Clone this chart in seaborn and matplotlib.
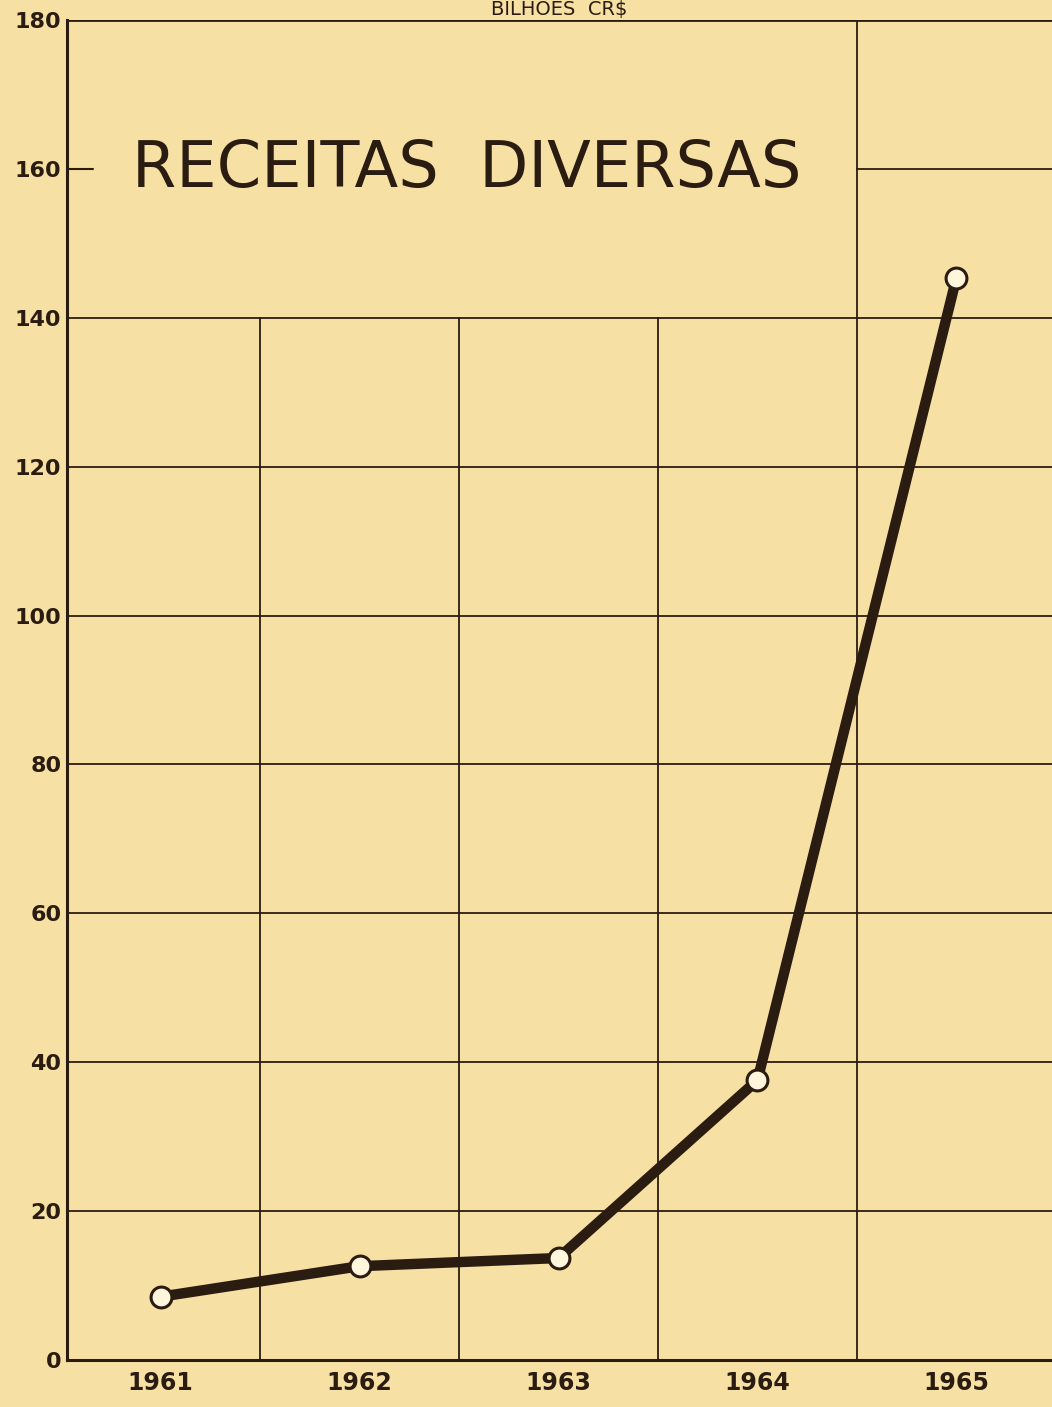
import matplotlib
matplotlib.use("Agg")
import matplotlib.pyplot as plt
import seaborn as sns
import pandas as pd

years = ["1961", "1962", "1963", "1964", "1965"]
values = [8.5, 12.6, 13.7, 37.6, 145.4]
y_ticks = [0, 20, 40, 60, 80, 100, 120, 140, 160, 180]
title = "RECEITAS  DIVERSAS"
unit = "BILHOES  CR$"

BG = "#F7E0A3"
INK = "#2B1C12"

sns.set_style("white")
plt.rcParams["font.family"] = ["DejaVu Sans"]

fig = plt.figure(figsize=(10.52, 14.07), dpi=100, facecolor=BG)
ax = fig.add_axes([0.0637, 0.0334, 0.9363, 0.9524])
ax.set_facecolor(BG)

df = pd.DataFrame({"pos": range(len(years)), "val": values})

ax.set_xlim(-0.47, 4.48)
ax.set_ylim(0, 180)

# grid
for v in y_ticks[:-2]:
    ax.plot([-0.47, 4.48], [v, v], color=INK, lw=1.3, zorder=1)
for v in y_ticks[-2:-1]:
    ax.plot([3.5, 4.48], [v, v], color=INK, lw=1.3, zorder=1)
ax.plot([-0.47, 4.48], [180, 180], color=INK, lw=2.0, zorder=1)
for xv in [0.5, 1.5, 2.5]:
    ax.plot([xv, xv], [0, 140], color=INK, lw=1.3, zorder=1)
ax.plot([3.5, 3.5], [0, 180], color=INK, lw=1.3, zorder=1)

sns.lineplot(data=df, x="pos", y="val", ax=ax, color=INK, lw=7.5,
             marker="o", markersize=15, markerfacecolor="#FFF6DC",
             markeredgecolor=INK, markeredgewidth=2.2, zorder=3)

for s in ["top", "right"]:
    ax.spines[s].set_visible(False)
ax.spines["left"].set_color(INK)
ax.spines["left"].set_linewidth(2.2)
ax.spines["bottom"].set_color(INK)
ax.spines["bottom"].set_linewidth(2.2)

ax.set_yticks(y_ticks)
ax.set_yticklabels([str(t) for t in y_ticks], fontsize=16, fontweight="bold", color=INK)
ax.tick_params(axis="y", length=0, pad=4)
ax.set_xticks(range(len(years)))
ax.set_xticklabels(years, fontsize=17, fontweight="bold", color=INK)
ax.tick_params(axis="x", length=0, pad=8)
ax.plot([-0.47, -0.34], [160, 160], color=INK, lw=1.5, zorder=1, clip_on=False)
ax.set_xlabel("")
ax.set_ylabel("")

ax.text(1.54, 160, title, fontsize=46, color=INK, ha="center", va="center",
        zorder=4)
fig.text(0.532, 0.9935, unit, fontsize=14, color=INK, ha="center", va="center")

fig.savefig("out.png", dpi=100, facecolor=BG)
